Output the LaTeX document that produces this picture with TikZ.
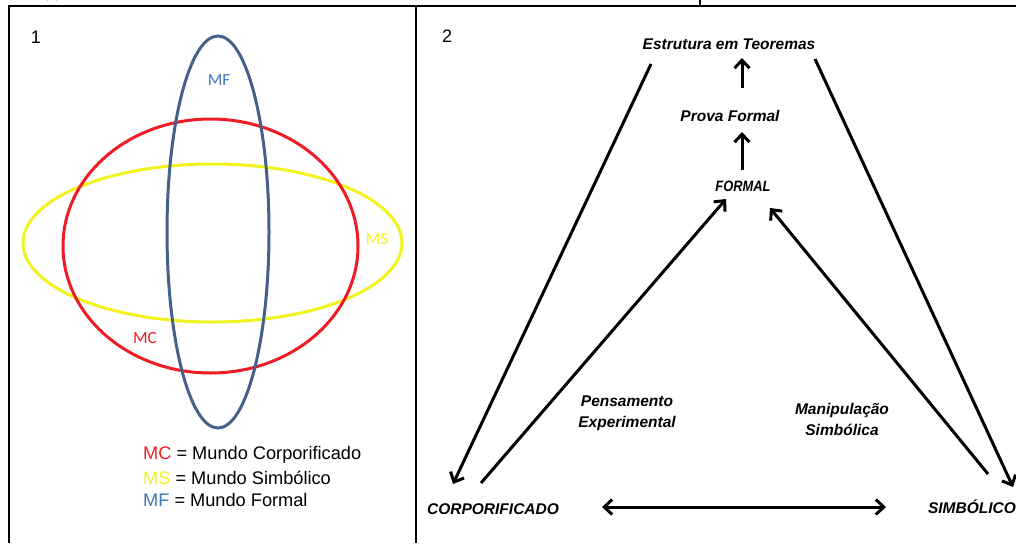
\documentclass[tikz,border=0pt]{standalone}
\usepackage{fontspec}
\setmainfont{Liberation Sans}
\newfontfamily\calib{Carlito}
\usetikzlibrary{arrows.meta}
\definecolor{mcred}{HTML}{EE1C24}
\definecolor{msyel}{HTML}{F2F21E}
\definecolor{mfblue}{HTML}{44618A}
\definecolor{mflab}{HTML}{3A78B5}
\tikzset{
  tabline/.style={line width=2.2pt,black},
  world/.style={line width=3pt},
  wlabel/.style={font=\calib\fontsize{17}{20}\selectfont,inner sep=0pt},
  legend/.style={font=\fontsize{18.2}{21}\selectfont,anchor=west,inner sep=0pt},
  num/.style={font=\fontsize{18}{21}\selectfont,inner sep=0pt},
  lab/.style={font=\bfseries\itshape\fontsize{15.5}{18}\selectfont,inner sep=0pt,align=center},
  barb/.tip={Straight Barb[length=8pt,width=15pt]},
  arr/.style={line width=3pt,-barb},
  darr/.style={line width=3pt,barb-barb}
}
\begin{document}
\begin{tikzpicture}[x=1pt,y=-1pt]
\useasboundingbox (0,0) rectangle (1016,543);
% table frame
\draw[tabline] (8,6) -- (1016,6);
\draw[tabline] (9,5) -- (9,543);
\draw[tabline] (416,5) -- (416,543);
\draw[line width=1.5pt] (700,0) -- (700,6);
\draw[line width=1.5pt] (47,0) arc[start angle=180,end angle=360,x radius=5,y radius=3];
% panel 1
\node[num] (n1) at (36,37) {1};
\draw[world,msyel] (212.5,243) ellipse[x radius=189.5,y radius=79];
\draw[world,mcred] (210.5,246) ellipse[x radius=147.5,y radius=127];
\draw[world,mfblue] (218,232) ellipse[x radius=51,y radius=196];
\node[wlabel,text=mflab] (mf) at (219,80) {MF};
\node[wlabel,text=msyel] (ms) at (377,239) {MS};
\node[wlabel,text=mcred] (mc) at (145,338) {MC};
\node[legend] (l1) at (143,455) {\textcolor{mcred}{MC} = Mundo Corporificado};
\node[legend] (l2) at (143,478) {\textcolor{msyel}{MS} = Mundo Simbólico};
\node[legend] (l3) at (143,500) {\textcolor{mflab}{MF} = Mundo Formal};
% panel 2
\node[num] (n2) at (447,36) {2};
\node[lab] (est) at (729,44) {Estrutura em Teoremas};
\node[lab] (prova) at (730,116) {Prova Formal};
\node[lab,font=\bfseries\itshape\fontsize{15}{17}\selectfont] (formal) at (743,186) {\scalebox{0.86}[1]{FORMAL}};
\node[lab] (corp) at (493,509) {CORPORIFICADO};
\node[lab] (simb) at (972,507) {SIMBÓLICO};
\node[lab,font=\bfseries\itshape\fontsize{15.5}{21}\selectfont] (pens) at (627,413) {Pensamento\\Experimental};
\node[lab,font=\bfseries\itshape\fontsize{15.5}{21}\selectfont] (manip) at (842,419) {Manipulação\\Simbólica};
% arrow end points
\coordinate (a1s) at (651,64);  \coordinate (a1e) at (453,484);
\coordinate (a2s) at (481,483); \coordinate (a2e) at (726,199);
\coordinate (a3s) at (988,474); \coordinate (a3e) at (770,208);
\coordinate (a4s) at (815,59);  \coordinate (a4e) at (1013,487);
\coordinate (dl) at (602,507);  \coordinate (dr) at (886,507);
\coordinate (u1s) at (742,88);  \coordinate (u1e) at (742,58);
\coordinate (u2s) at (742,170); \coordinate (u2e) at (742,132);
\draw[arr] (a1s) -- (a1e);
\draw[arr] (a2s) -- (a2e);
\draw[arr] (a3s) -- (a3e);
\draw[arr] (a4s) -- (a4e);
\draw[darr] (dl) -- (dr);
\draw[arr] (u1s) -- (u1e);
\draw[arr] (u2s) -- (u2e);
\end{tikzpicture}
\end{document}
